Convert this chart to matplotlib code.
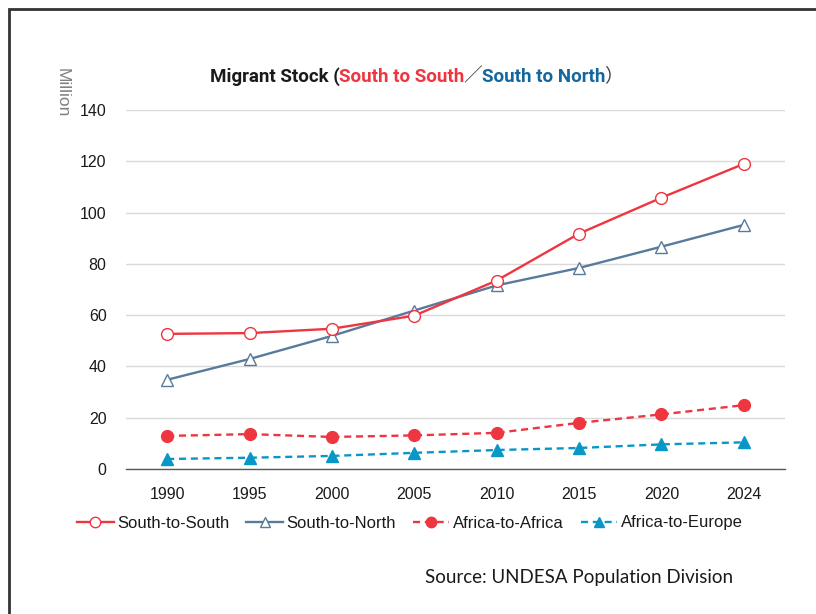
import matplotlib
matplotlib.use("Agg")
import matplotlib.pyplot as plt
from matplotlib.patches import Rectangle

years = ["1990", "1995", "2000", "2005", "2010", "2015", "2020", "2024"]
south_to_south = [52.7, 53.0, 54.7, 59.8, 73.5, 91.8, 105.8, 119.0]
south_to_north = [34.8, 42.9, 51.9, 61.8, 71.6, 78.4, 86.7, 95.2]
africa_to_africa = [12.9, 13.6, 12.5, 13.1, 14.1, 18.0, 21.3, 24.9]
africa_to_europe = [3.9, 4.4, 5.1, 6.3, 7.4, 8.2, 9.6, 10.4]
yticks = [0, 20, 40, 60, 80, 100, 120, 140]

RED = "#EE3640"
SLATE = "#587A9C"
CYAN = "#0897C6"
TITLE_BLUE = "#14679E"

W, H = 816, 614
fig = plt.figure(figsize=(W / 100, H / 100), dpi=100)
ax = fig.add_axes([126 / W, (H - 469) / H, (785 - 126) / W, (469 - 110) / H])

x = list(range(len(years)))
ax.plot(x, south_to_south, color=RED, lw=1.7, marker="o", ms=8.5,
        mfc="white", mec=RED, mew=1.0, label="South-to-South", zorder=4)
ax.plot(x, south_to_north, color=SLATE, lw=1.7, marker="^", ms=8.5,
        mfc="white", mec=SLATE, mew=1.0, label="South-to-North", zorder=3)
ax.plot(x, africa_to_africa, color=RED, lw=1.7, ls=(0, (3, 2)), marker="o", ms=8.5,
        mfc=RED, mec=RED, label="Africa-to-Africa", zorder=3)
ax.plot(x, africa_to_europe, color=CYAN, lw=1.7, ls=(0, (3, 2)), marker="^", ms=8.5,
        mfc=CYAN, mec=CYAN, label="Africa-to-Europe", zorder=3)

ax.set_xlim(-0.5, len(years) - 0.5)
ax.set_ylim(0, 140)
ax.set_yticks(yticks)
ax.set_xticks(x)
ax.set_xticklabels(years)
ax.grid(axis="y", color="#D9D9D9", lw=1.0)
ax.set_axisbelow(True)
for s in ["left", "right", "top"]:
    ax.spines[s].set_visible(False)
ax.spines["bottom"].set_color("#595959")
ax.spines["bottom"].set_linewidth(1.0)
ax.tick_params(axis="both", length=0, labelsize=11.5, labelcolor="#1a1a1a")
ax.tick_params(axis="y", pad=14)
ax.tick_params(axis="x", pad=13)
for lab in ax.get_xticklabels() + ax.get_yticklabels():
    lab.set_family(["Liberation Sans", "DejaVu Sans"])

# Million label
fig.text(62 / W, 1 - 93 / H, "Million", rotation=270, ha="center", va="center",
         fontsize=12.5, color="#808080", family=["Liberation Sans", "DejaVu Sans"])

# Title composed of coloured pieces
tfam = ["Roboto", "Noto Sans CJK JP"]
t0 = fig.text(210 / W, 1 - 82 / H, "Migrant Stock (", fontsize=13.5, fontweight="bold",
              color="#1a1a1a", family=tfam, va="baseline", ha="left")
pieces = [("South to South", RED, "bold", tfam),
          ("／", "#404040", "normal", ["Noto Sans CJK JP"]),
          ("South to North", TITLE_BLUE, "bold", tfam),
          ("）", "#404040", "normal", ["Noto Sans CJK JP"])]
prev = t0
for txt, col, wt, fam in pieces:
    prev = ax.annotate(txt, xy=(1, 0), xycoords=prev, xytext=(-0.5, 0),
                       textcoords="offset points", fontsize=13.5, fontweight=wt,
                       color=col, family=fam, va="bottom", ha="left",
                       annotation_clip=False)

# Legend
leg = fig.legend(loc="center left", bbox_to_anchor=(77 / W, 1 - 523 / H), ncol=4,
                 frameon=False, handlelength=2.2, handletextpad=0.2,
                 columnspacing=1.02, borderaxespad=0, borderpad=0,
                 prop={"family": ["Liberation Sans", "DejaVu Sans"], "size": 12})
for t in leg.get_texts():
    t.set_color("#1a1a1a")
for h in leg.legend_handles:
    h.set_markersize(7.5)

# Source
fig.text(425 / W, 1 - 578 / H, "Source: UNDESA Population Division", ha="left",
         va="center", fontsize=13.5, color="#1a1a1a", family=["Lato", "DejaVu Sans"])

# Frame
fig.add_artist(Rectangle((9 / W, -0.2), 2, 1.2 - 9.5 / H, transform=fig.transFigure,
                         fill=False, lw=2, ec="#333333"))

fig.savefig("out.png", dpi=100)
